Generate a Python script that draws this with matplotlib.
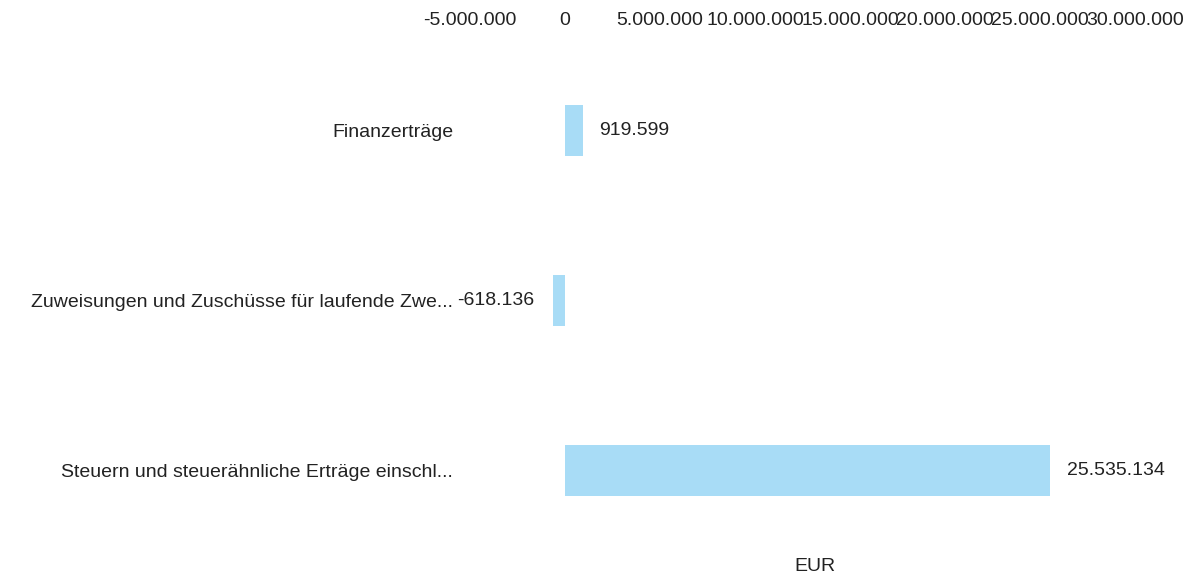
import matplotlib
matplotlib.use("Agg")
import matplotlib.pyplot as plt
from matplotlib.ticker import FuncFormatter

categories = [
    "Finanzerträge",
    "Zuweisungen und Zuschüsse für laufende Zwe...",
    "Steuern und steuerähnliche Erträge einschl...",
]
values = [919599, -618136, 25535134]
ticks = [-5000000, 0, 5000000, 10000000, 15000000, 20000000, 25000000, 30000000]


def de_fmt(v, pos=None):
    return f"{int(round(v)):,}".replace(",", ".")


plt.rcParams["font.family"] = ["Liberation Sans", "DejaVu Sans"]
FS = 14

fig = plt.figure(figsize=(11.95, 5.84), dpi=100)
ax = fig.add_axes([470 / 1195, 1 - 530 / 584, (1160 - 470) / 1195, (530 - 40) / 584])

y = list(range(len(categories)))
ax.barh(y, values, height=0.3, color="#a8dcf6")

ax.set_xlim(-5000000, 31300000)
ax.set_ylim(2.35, -0.53)
ax.set_xticks(ticks)
ax.xaxis.set_major_formatter(FuncFormatter(de_fmt))
ax.xaxis.tick_top()
ax.set_yticks(y)
ax.set_yticklabels(categories)
ax.tick_params(axis="both", length=0, labelsize=FS, colors="#222222")
ax.tick_params(axis="y", pad=12)
ax.tick_params(axis="x", pad=8)
for s in ax.spines.values():
    s.set_visible(False)

for yi, v in zip(y, values):
    if v >= 0:
        ax.annotate(de_fmt(v), (v, yi), xytext=(12, 0), textcoords="offset points",
                    ha="left", va="center", fontsize=FS, color="#222222")
    else:
        ax.annotate(de_fmt(v), (v, yi), xytext=(-14, 0), textcoords="offset points",
                    ha="right", va="center", fontsize=FS, color="#222222")

ax.set_xlabel("EUR", fontsize=FS, color="#222222")
ax.xaxis.set_label_position("bottom")
ax.xaxis.labelpad = 20

fig.savefig("out.png", dpi=100)
plt.close(fig)
